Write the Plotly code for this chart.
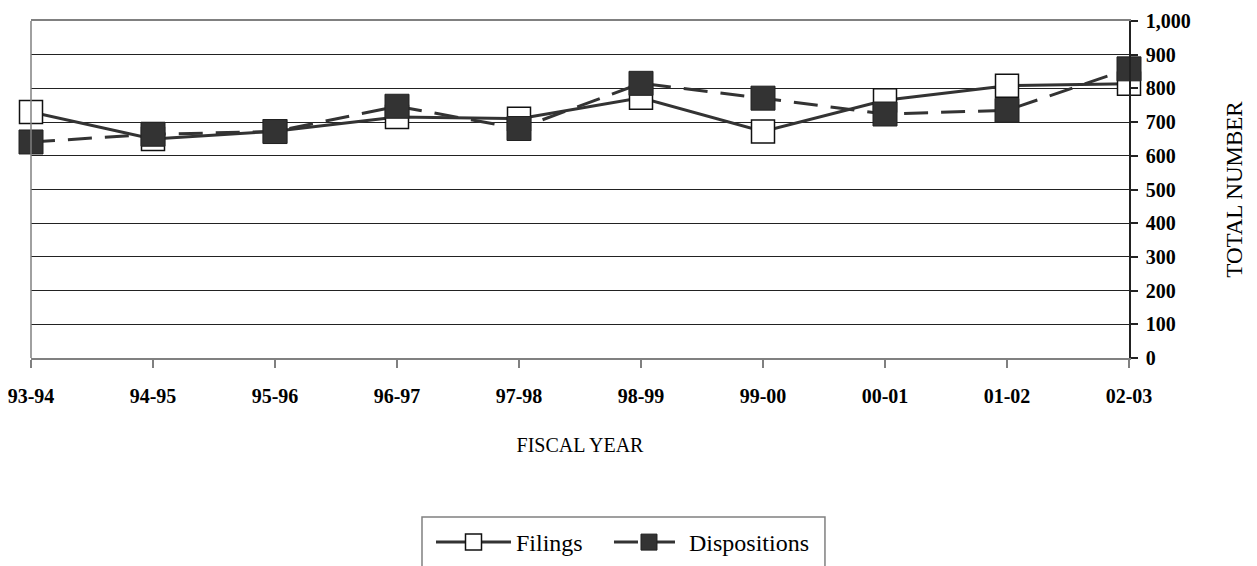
import plotly.graph_objects as go

categories = ["93-94", "94-95", "95-96", "96-97", "97-98", "98-99", "99-00", "00-01", "01-02", "02-03"]
filings = [730, 650, 673, 715, 710, 772, 672, 765, 808, 814]
dispositions = [641, 664, 672, 747, 681, 815, 771, 724, 735, 858]
y_ticks = [0, 100, 200, 300, 400, 500, 600, 700, 800, 900, 1000]

x_pos = list(range(len(categories)))
SERIF = "Liberation Serif"
DARK = "#333333"

fig = go.Figure()
fig.add_trace(go.Scatter(
    x=x_pos, y=filings, name="Filings", mode="lines+markers",
    line=dict(color=DARK, width=3),
    marker=dict(symbol="square", size=23, color="white", line=dict(color="#111111", width=1.5)),
    cliponaxis=False, legend="legend",
))
fig.add_trace(go.Scatter(
    x=x_pos, y=dispositions, name="Dispositions", mode="lines+markers",
    line=dict(color=DARK, width=3, dash="24px,13px"),
    marker=dict(symbol="square", size=24, color=DARK, line=dict(color="#222222", width=1)),
    cliponaxis=False, legend="legend2",
))

legend_common = dict(
    orientation="h", xanchor="left", y=-0.4807, yanchor="top",
    font=dict(family=SERIF, size=24, color="#000000"),
    borderwidth=0, bgcolor="rgba(0,0,0,0)",
)

# page body has an 8px margin, so the figure is sized/offset accordingly
fig.update_layout(
    width=1249, height=558,
    margin=dict(l=23, r=128, t=13, b=208, autoexpand=False),
    paper_bgcolor="white", plot_bgcolor="white",
    font=dict(family=SERIF, color="#000000", size=20),
    showlegend=True,
    legend=dict(x=0.3643, itemwidth=75, **legend_common),
    legend2=dict(x=0.5264, itemwidth=70, **legend_common),
    xaxis=dict(
        range=[0, len(categories) - 1], automargin=False,
        tickmode="array", tickvals=x_pos, ticktext=categories,
        showgrid=False, zeroline=False,
        showline=True, linecolor="#808080", linewidth=1.5, mirror=True,
        ticks="outside", ticklen=8, tickcolor="#808080", tickwidth=1.5,
        tickfont=dict(family=SERIF, size=20, weight="bold", color="#000000"),
        ticklabelstandoff=11, ticklabeloverflow="allow",
        title=dict(text="FISCAL YEAR", font=dict(family=SERIF, size=20, color="#000000"), standoff=32),
    ),
    yaxis=dict(
        side="right", range=[0, 1000], automargin=False,
        tickmode="array", tickvals=y_ticks, tickformat=",",
        showgrid=True, gridcolor="#222222", gridwidth=1,
        zeroline=False,
        showline=True, linecolor="#222222", linewidth=1.5,
        ticks="outside", ticklen=7, tickcolor="#222222", tickwidth=1.5,
        tickfont=dict(family=SERIF, size=20, weight="bold", color="#000000"),
        ticklabelstandoff=4, ticklabeloverflow="allow",
        title=dict(text="TOTAL NUMBER", font=dict(family=SERIF, size=23, color="#000000"), standoff=36),
    ),
)

# left plot border
fig.add_shape(type="line", xref="x domain", yref="y domain", x0=0, x1=0, y0=0, y1=1,
              line=dict(color="#808080", width=1.5), layer="above")
# legend frame (runs off the bottom edge, as in the original)
fig.add_shape(type="rect", xref="paper", yref="paper",
              x0=0.3561, x1=0.7231, y0=-0.4718, y1=-0.75,
              line=dict(color="#808080", width=1.5), fillcolor="rgba(0,0,0,0)", layer="below")

fig.write_html("out.html")
